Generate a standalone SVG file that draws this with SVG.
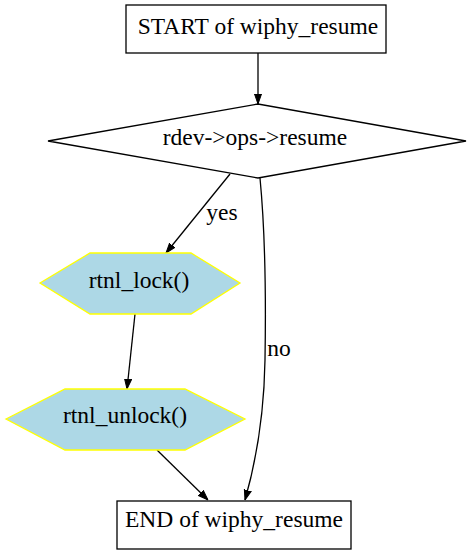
<svg xmlns="http://www.w3.org/2000/svg" width="469" height="555" viewBox="0 0 469 555">
<defs>
<style>
.n{fill:#fff;stroke:#000;stroke-width:1.3}
.h{fill:#add8e6;stroke:#ffff00;stroke-width:1.3}
.e{fill:none;stroke:#000;stroke-width:1.3}
</style>
<marker id="a" viewBox="0 0 10 10" refX="10" refY="5" markerWidth="10" markerHeight="10" markerUnits="userSpaceOnUse" orient="auto">
<path d="M0,1.5 L10,5 L0,8.5 Z" fill="#000" stroke="#000"/>
</marker>
</defs>
<rect width="469" height="555" fill="#fff"/>
<g font-family="Liberation Serif, Times New Roman, serif" font-size="23.5" text-anchor="middle" fill="#000">
<g id="connectors">
<path class="e" d="M258,53 L258,104" marker-end="url(#a)"/>
<path class="e" d="M230,174 L166,253" marker-end="url(#a)"/>
<text x="222" y="220">yes</text>
<path class="e" d="M260,178 C265,230 266,300 265,360 C264,420 255,465 245,500" marker-end="url(#a)"/>
<text x="279" y="356">no</text>
<path class="e" d="M135,314 L127,389" marker-end="url(#a)"/>
<path class="e" d="M157,450 L208,500" marker-end="url(#a)"/>
</g>
<g id="start">
<rect class="n" x="126" y="5" width="260" height="48"/>
<text x="258" y="34">START of wiphy_resume</text>
</g>
<g id="cond">
<polygon class="n" points="48,141 258,104 466,141 258,178"/>
<text x="255" y="145">rdev-&gt;ops-&gt;resume</text>
</g>
<g id="lock">
<polygon class="h" points="40,283 90,253 191,253 240,283 191,314 90,314"/>
<text x="139" y="288">rtnl_lock()</text>
</g>
<g id="unlock">
<polygon class="h" points="6,419 65,389 185,389 245,419 185,450 65,450"/>
<text x="125" y="423">rtnl_unlock()</text>
</g>
<g id="end">
<rect class="n" x="117" y="501" width="234" height="48"/>
<text x="234" y="527">END of wiphy_resume</text>
</g>
</g>
</svg>
